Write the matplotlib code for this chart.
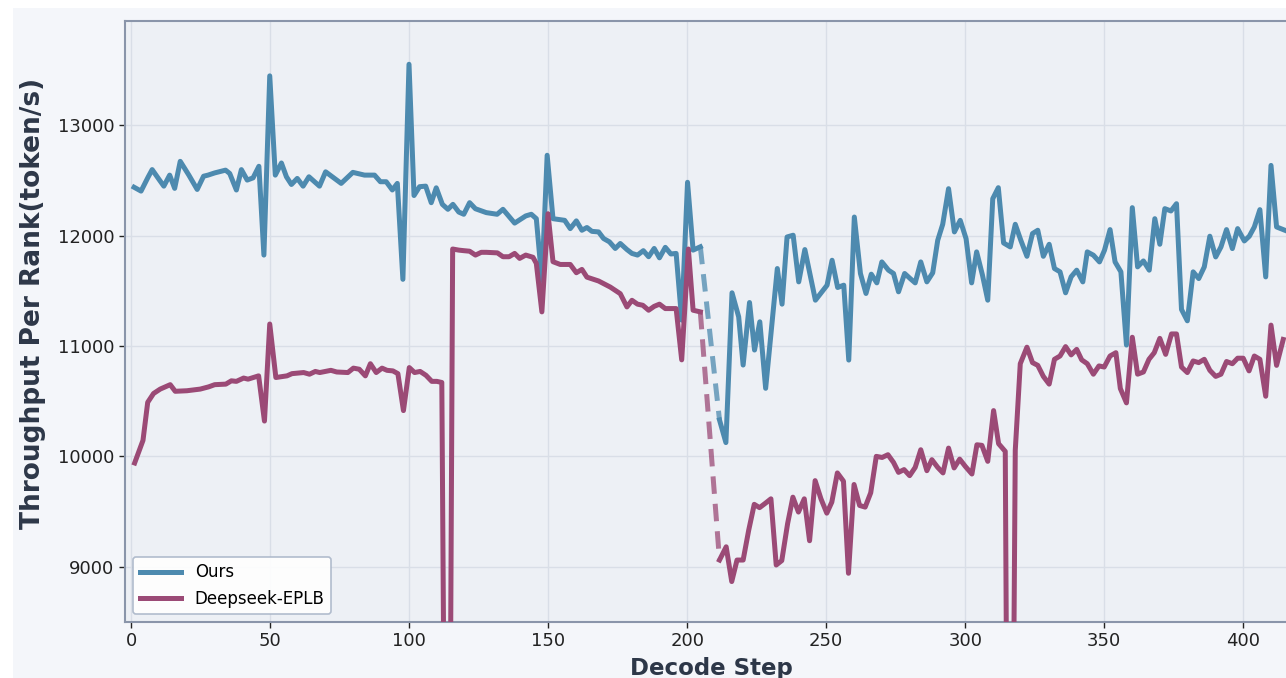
import numpy as np
import matplotlib
matplotlib.use("Agg")
import matplotlib.pyplot as plt
from matplotlib.patches import Rectangle

# ---- data ----
ours_steps_a = [1, 3.5, 6, 7.5, 10, 11.7, 13.8, 15.6, 17.6, 20.7, 23.7, 26, 27.6, 30, 33.9, 35.4,
                37.8, 39.6, 41.7, 43.8, 45.9, 47.7, 49.8, 51.8, 54, 55.8, 57.6, 59.7, 61.8, 63.9,
                67.7, 69.9, 75.5, 79.7, 83.9, 87.5, 89.6, 91.7, 93.9, 95.7, 97.7, 99.9, 101.7,
                103.7, 105.9, 107.9, 109.7, 111.9, 113.9, 115.7, 117.8, 119.6, 121.7, 123.8,
                127.7, 131.6, 133.7, 137.9, 141.9, 143.9, 145.7, 147.7, 149.6, 151.7, 155.9,
                157.9, 160.1, 162.1, 163.9, 165.7, 168.1, 169.9, 172, 174.1, 175.9, 178.3, 180.1,
                182.1, 184.2, 186.1, 188.1, 190, 192.1, 194.1, 196, 198, 200.1, 202.1, 204.7]
ours_tput_a = [12440, 12405, 12530, 12600, 12510, 12450, 12550, 12430, 12675, 12550, 12420, 12540,
               12550, 12570, 12595, 12565, 12415, 12600, 12505, 12525, 12630, 11825, 13450, 12550,
               12660, 12535, 12465, 12520, 12450, 12535, 12450, 12580, 12475, 12575, 12550, 12550,
               12490, 12490, 12415, 12475, 11605, 13555, 12365, 12445, 12450, 12300, 12435, 12285,
               12240, 12285, 12215, 12195, 12300, 12245, 12210, 12195, 12240, 12115, 12180, 12195,
               12155, 11595, 12730, 12155, 12140, 12065, 12135, 12050, 12075, 12040, 12035, 11975,
               11945, 11885, 11930, 11875, 11840, 11825, 11865, 11810, 11885, 11800, 11895, 11835,
               11840, 11235, 12485, 11870, 11900]

ours_steps_b = [211.6, 213.9, 216.1, 218.5, 220.1, 222.4, 224.2, 226.1, 228.2, 232.4, 234.1, 235.9,
                238.1, 240.1, 242.3, 246.1, 250.3, 252.1, 254.1, 256.3, 258.1, 260.1, 262.3, 264.3,
                266.2, 268.2, 270, 272.4, 274.2, 276, 278.2, 280.2, 282, 284, 286.2, 288.3, 290.1,
                291.9, 294, 296.1, 298.2, 300.3, 302.3, 304.1, 306.2, 308.1, 309.9, 311.9, 313.8,
                316.2, 318, 320, 322.2, 324.2, 326.1, 328.1, 330.2, 332.1, 334.1, 336.1, 338.1,
                340.1, 342.3, 343.9, 346.1, 348.3, 350.1, 352.1, 353.9, 356, 358, 360.1, 362,
                364.1, 366.2, 368.2, 370, 371.8, 374, 376, 377.8, 379.9, 382, 384, 386, 388, 390.1,
                392, 394, 396.1, 398, 400.4, 402.2, 404, 406, 408.1, 410, 412, 415]
ours_tput_b = [10330, 10125, 11483, 11265, 10828, 11395, 10964, 11220, 10617, 11703, 11380, 11989,
               12005, 11582, 11875, 11416, 11552, 11778, 11531, 11552, 10873, 12170, 11658, 11477,
               11652, 11573, 11763, 11688, 11658, 11492, 11658, 11612, 11573, 11763, 11582, 11664,
               11959, 12104, 12427, 12035, 12140, 11974, 11573, 11854, 11643, 11416, 12336, 12436,
               11935, 11899, 12104, 11959, 11814, 12020, 12050, 11814, 11923, 11703, 11673, 11483,
               11628, 11688, 11582, 11854, 11824, 11763, 11869, 12056, 11763, 11673, 11009, 12255,
               11718, 11772, 11688, 12155, 11923, 12246, 12225, 12291, 11332, 11229, 11673, 11612,
               11718, 11996, 11808, 11899, 12056, 11884, 12065, 11953, 11996, 12080, 12237, 11627,
               12638, 12080, 12050]

eplb_steps_a = [1.2, 4.2, 5.9, 8, 10.4, 14, 15.8, 20, 24.8, 27.8, 30, 34, 36, 37.8, 40.4, 42, 45.8,
                47.9, 49.8, 52, 56, 57.8, 62, 64.1, 66.2, 67.8, 71.8, 73.9, 77.9, 79.9, 82, 84.2,
                86, 88.1, 90.2, 92, 94.1, 95.9, 97.9, 100, 101.9, 103.9, 106, 108.1, 109.9, 111.7,
                113.8, 115.6, 117.8, 119.6, 121.7, 123.8, 125.9, 127.7, 131.7, 133.7, 135.9, 137.9,
                139.7, 141.9, 144.5, 145.7, 147.7, 149.9, 151.7, 154.3, 157.9, 160.1, 162.1, 163.9,
                168.1, 172.3, 175.9, 178.3, 180.1, 182.1, 184, 186.1, 188.1, 190, 192.1, 196, 198,
                200.4, 202.1, 204.7]
eplb_tput_a = [9940, 10145, 10490, 10570, 10610, 10650, 10590, 10595, 10610, 10630, 10650, 10655,
               10685, 10680, 10710, 10700, 10730, 10320, 11200, 10715, 10730, 10750, 10760, 10745,
               10770, 10760, 10780, 10765, 10760, 10800, 10790, 10730, 10840, 10760, 10800, 10780,
               10775, 10750, 10415, 10805, 10760, 10770, 10735, 10680, 10680, 10670, 3000, 11880,
               11870, 11865, 11860, 11825, 11850, 11850, 11845, 11810, 11810, 11840, 11795, 11825,
               11805, 11750, 11310, 12200, 11765, 11740, 11740, 11665, 11695, 11625, 11590, 11535,
               11475, 11355, 11415, 11380, 11370, 11325, 11360, 11380, 11340, 11340, 10875, 11880,
               11325, 11310]

eplb_steps_b = [211.6, 214, 216, 217.9, 220.1, 222.1, 224.1, 226, 228.1, 230.1, 232, 234, 236.1,
                238, 240, 242.1, 244, 246, 248.1, 250.2, 252, 254, 256.2, 258, 260, 262, 264, 266,
                268, 270.1, 272.2, 274.2, 276, 278, 280, 282, 284, 286.2, 288, 290.1, 292, 294,
                296, 298, 300, 302.4, 304.2, 306, 308.1, 310.2, 312, 314.4, 316, 318, 319.8, 322.2,
                324.2, 326.1, 328.1, 330.2, 332.1, 334.1, 336.1, 338.1, 340.1, 341.9, 343.9, 346.1,
                348.1, 350, 352.1, 354.2, 355.8, 358, 360.1, 362, 364.1, 366.1, 368, 370, 372.1,
                374.2, 376, 377.8, 379.9, 382, 384, 386, 388, 390.1, 392, 394, 396.1, 398, 400,
                402.1, 404, 406, 408.1, 410, 412, 414.4]
eplb_tput_b = [9060, 9180, 8865, 9060, 9060, 9330, 9565, 9535, 9575, 9615, 9015, 9055, 9390, 9630,
               9495, 9615, 9235, 9780, 9615, 9485, 9585, 9850, 9775, 8940, 9745, 9555, 9540, 9670,
               10000, 9990, 10015, 9945, 9855, 9880, 9825, 9900, 10060, 9870, 9970, 9900, 9850,
               10075, 9895, 9975, 9910, 9840, 10105, 10100, 9955, 10415, 10115, 10045, 3000, 10055,
               10840, 10990, 10850, 10825, 10725, 10655, 10880, 10910, 10995, 10920, 10970, 10875,
               10840, 10745, 10820, 10810, 10910, 10940, 10615, 10485, 11080, 10745, 10765, 10880,
               10940, 11070, 10925, 11110, 11110, 10810, 10760, 10865, 10850, 10880, 10780, 10725,
               10745, 10860, 10840, 10890, 10890, 10775, 10910, 10880, 10545, 11190, 10825, 11060]

series_names = ["Ours", "Deepseek-EPLB"]
x_ticks = [0, 50, 100, 150, 200, 250, 300, 350, 400]
y_ticks = [9000, 10000, 11000, 12000, 13000]

BLUE = "#4d8aaf"
PURPLE = "#9b4a76"
FIG_BG = "#f4f6fa"
AX_BG = "#edf0f5"
SPINE = "#8a95aa"
LABEL = "#2d3748"

W, H = 1286, 678
fig = plt.figure(figsize=(W / 100, H / 100), dpi=100, facecolor="white")
# light panel behind the plot (the screenshot has a thin white border top/left)
fig.patches.append(Rectangle((12.7 / W, 0), 1, 1 - 8 / H, transform=fig.transFigure,
                             facecolor=FIG_BG, edgecolor="none", zorder=-10))

ax = fig.add_axes([125 / W, (H - 621.7) / H, 1173.8 / W, 601 / H])
ax.set_facecolor(AX_BG)

lw = 3.6
ax.plot(ours_steps_a, ours_tput_a, color=BLUE, lw=lw, label=series_names[0], zorder=3)
ax.plot(ours_steps_b, ours_tput_b, color=BLUE, lw=lw, zorder=3)
ax.plot([ours_steps_a[-1], ours_steps_b[0]], [ours_tput_a[-1], ours_tput_b[0]],
        color=BLUE, lw=lw, ls=(0, (3.5, 2)), alpha=0.75, zorder=3)

ax.plot(eplb_steps_a, eplb_tput_a, color=PURPLE, lw=lw, label=series_names[1], zorder=4)
ax.plot(eplb_steps_b, eplb_tput_b, color=PURPLE, lw=lw, zorder=4)
ax.plot([eplb_steps_a[-1], eplb_steps_b[0]], [eplb_tput_a[-1], eplb_tput_b[0]],
        color=PURPLE, lw=lw, ls=(0, (3.5, 2)), alpha=0.75, zorder=4)

ax.set_xlim(-2.27, 420)
ax.set_ylim(8501, 13950)
ax.set_xticks(x_ticks)
ax.set_yticks(y_ticks)
ax.tick_params(labelsize=13, colors="#222222", length=4, width=1)
ax.grid(True, color="#d9dee7", lw=1, zorder=0)
ax.set_axisbelow(True)
for s in ax.spines.values():
    s.set_color(SPINE)
    s.set_linewidth(1.5)

ax.set_xlabel("Decode Step", fontsize=16.5, fontweight="bold", color=LABEL, labelpad=5)
ax.set_ylabel("Throughput Per Rank(token/s)", fontsize=19, fontweight="bold", color=LABEL)
ax.yaxis.set_label_coords(-0.0675, 0.53)

leg = ax.legend(loc="lower left", bbox_to_anchor=(0.0068, 0.012), borderaxespad=0,
                fontsize=12, handlelength=2.5, fancybox=True, framealpha=0.9,
                facecolor="white", edgecolor="#aab6c8")
leg.get_frame().set_linewidth(1.2)

fig.savefig("out.png", dpi=100, facecolor=fig.get_facecolor())
